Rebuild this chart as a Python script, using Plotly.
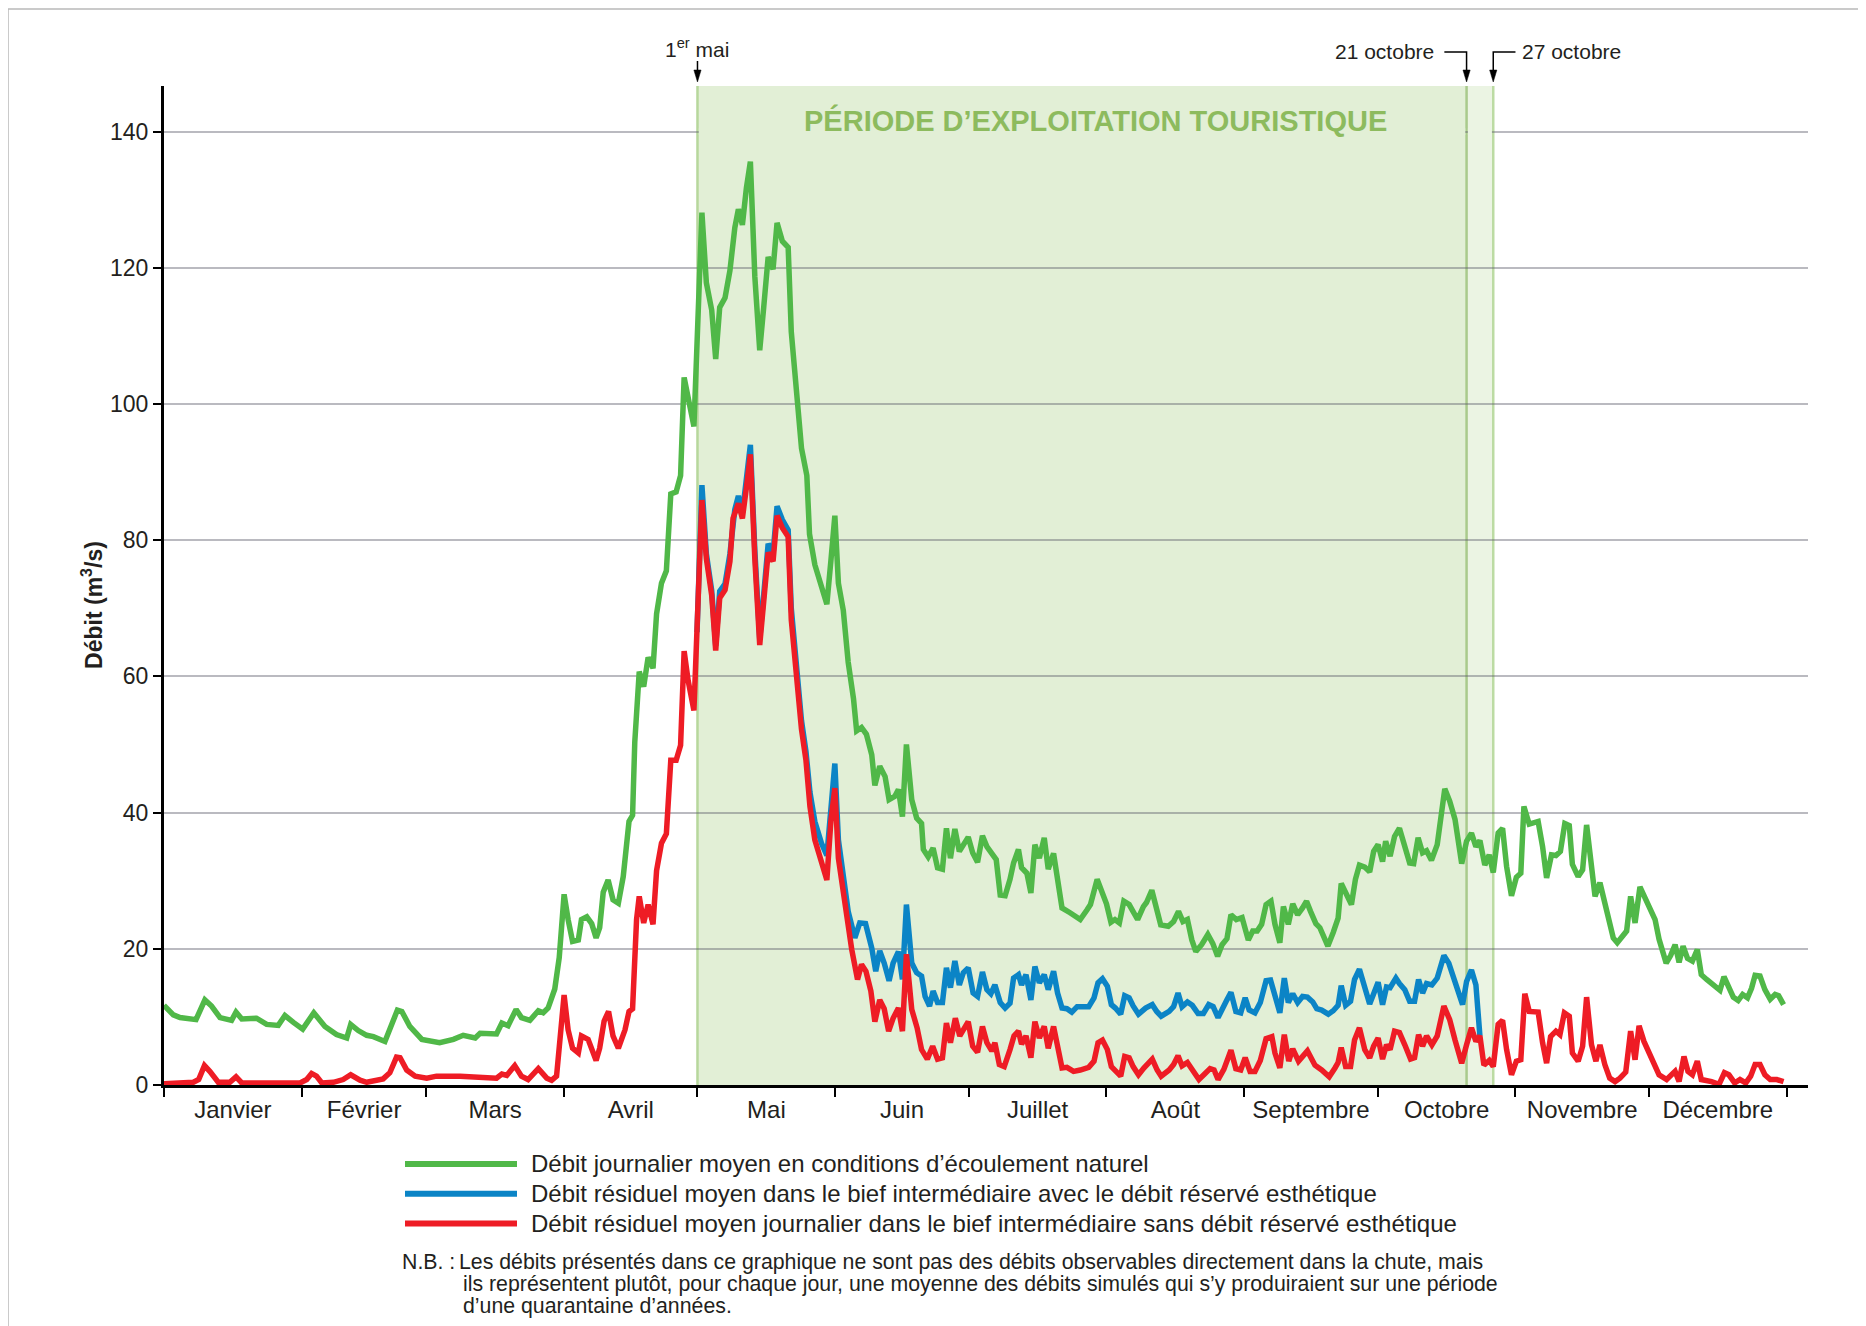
import plotly.graph_objects as go

# ---------------- DATA (day of year, m3/s) ----------------
natural = [(0,11.7),(2.1,10.3),(3.6,9.9),(6.6,9.7),(7.2,9.6),(9.2,12.5),(10.7,11.6),(12.6,9.9),(14.8,9.7),(15.2,9.5),
 (16.2,10.7),(17.5,9.7),(20.8,9.8),(23.1,8.9),(25.7,8.75),(27.2,10.2),(29.1,9.2),(31.2,8.2),(33.7,10.6),(36.2,8.6),
 (38.8,7.4),(41.1,6.9),(42.0,8.9),(43.7,8.0),(45.6,7.3),(47.1,7.1),(49.7,6.4),(50.8,8.1),(52.5,11.0),(53.5,10.8),
 (55.3,8.6),(58.0,6.7),(62.0,6.2),(65.1,6.7),(67.3,7.3),(70.0,6.9),(71.1,7.6),(74.8,7.5),(76.0,9.1),(77.4,8.7),
 (79.2,11.1),(80.4,9.9),(82.3,9.5),(84.2,10.9),(85.3,10.6),(86.4,11.3),(87.9,14.1),(88.9,18.7),(90.0,28.0),(90.9,24.3),
 (91.9,21.1),(93.2,21.3),(93.9,24.3),(95.1,24.7),(96.2,23.7),(97.2,21.6),(98.0,23.1),(98.8,28.3),(99.9,30.1),(101.0,27.2),
 (102.2,26.7),(103.3,30.6),(104.6,38.7),(105.4,39.6),(105.9,50.4),(106.9,60.7),(107.9,58.5),(108.9,62.8),(110.0,61.2),
 (110.8,69.2),(111.9,73.7),(113.0,75.5),(114.0,86.8),(115.2,87.1),(116.2,89.5),(117.0,103.9),(117.9,100.7),(119.2,96.7),
 (121.0,128.1),(122.0,117.8),(123.2,113.8),(124.1,106.6),(125.0,114.2),(126.2,115.6),(127.3,119.6),(128.4,125.9),
 (129.2,128.6),(130.1,126.3),(131.0,131.7),(131.9,135.6),(132.9,118.7),(134.0,107.9),(134.9,114.2),(135.9,121.6),
 (137.0,119.8),(137.9,126.6),(139.1,123.9),(140.4,123.0),(141.1,110.6),(142.3,101.6),(143.4,93.5),(144.6,89.5),
 (145.2,80.9),(146.4,76.4),(147.9,73.3),(149.1,70.6),(150.0,76.9),(150.9,83.6),(151.7,73.7),(152.8,69.7),(153.9,62.1),
 (155.1,56.7),(155.8,52.0),(156.9,52.5),(158.0,51.5),(159.2,48.5),(159.9,44.0),(161.0,46.8),(162.2,45.3),(163.1,41.9),
 (164.4,42.4),(165.2,43.4),(166.1,39.4),(167.0,50.0),(168.2,41.9),(169.3,39.2),(170.4,38.4),(170.8,34.6),(171.9,33.5),
 (173.0,34.8),(174.0,31.9),(175.1,31.7),(176.0,37.7),(176.9,33.3),(177.9,37.6),(178.9,34.3),(180.9,36.4),(181.9,34.1),
 (183.0,32.7),(184.1,36.6),(185.1,35.0),(186.2,33.8),(187.2,33.1),(188.1,27.9),(189.2,27.8),(190.3,30.2),(191.1,32.6),
 (192.2,34.6),(192.9,31.9),(194.1,31.1),(195.0,28.2),(195.9,35.3),(196.9,33.3),(198.0,36.3),(198.9,31.7),(200.1,34.0),
 (201.0,30.2),(202.0,26.0),(203.8,25.3),(206.1,24.3),(207.6,25.7),(208.4,26.5),(209.9,30.2),(211.3,27.7),(212.0,26.6),
 (213.0,23.9),(213.9,24.3),(214.9,23.8),(215.9,27.0),(217.1,26.5),(218.0,25.3),(219.0,24.3),(220.3,26.2),(221.0,26.8),
 (222.2,28.6),(223.1,26.2),(224.2,23.5),(225.9,23.3),(227.1,24.0),(228.2,25.5),(229.2,24.0),(230.2,24.3),(231.2,21.3),
 (232.1,19.6),(233.4,20.6),(234.8,22.1),(235.9,20.8),(237.0,18.9),(238.0,20.6),(239.1,21.5),(240.0,25.0),(241.2,24.3),
 (242.5,24.6),(243.9,21.3),(244.9,22.6),(245.9,22.6),(246.9,23.6),(247.9,26.5),(249.0,27.0),(249.9,23.6),(251.0,20.9),
 (251.8,26.2),(252.9,23.6),(253.9,26.6),(255.0,25.0),(256.1,26.0),(257.0,27.0),(257.9,25.5),(259.1,23.7),(260.0,23.1),
 (260.9,21.5),(261.8,20.4),(263.0,22.4),(264.1,24.5),(264.8,29.6),(266.0,27.8),(267.1,26.5),(268.0,30.2),(268.9,32.3),
 (270.1,32.0),(271.2,31.3),(272.1,34.3),(273.1,35.3),(274.1,32.8),(274.8,35.8),(275.8,33.6),(276.8,36.5),(277.9,37.7),
 (279.1,35.0),(280.2,32.6),(281.1,32.5),(282.1,36.3),(283.1,34.1),(284.0,34.4),(285.1,33.0),(286.4,35.3),(288.1,43.5),
 (289.2,41.7),(290.4,39.0),(291.1,35.5),(291.9,32.5),(293.0,35.8),(294.1,37.0),(295.1,35.0),(296.0,35.9),(297.1,32.3),
 (298.1,33.8),(299.0,31.2),(300.1,37.0),(301.1,37.7),(302.0,32.1),(303.1,27.8),(304.2,30.5),(305.2,31.1),(305.9,40.9),
 (307.1,38.3),(309.1,38.7),(310.1,35.0),(311.0,30.4),(312.1,33.8),(313.1,33.7),(314.1,34.3),(315.1,38.4),(316.1,38.1),
 (316.8,32.4),(318.1,30.6),(319.1,31.6),(320.0,38.2),(321.1,32.4),(321.9,27.7),(323.0,29.7),(324.1,26.5),(325.1,23.5),
 (326.0,21.6),(326.9,20.9),(327.9,21.7),(329.0,22.6),(329.9,27.7),(330.9,23.8),(332.0,29.1),(333.1,27.5),(334.2,25.8),
 (335.4,24.3),(336.3,21.4),(337.2,19.4),(337.9,17.9),(338.9,19.0),(339.9,20.6),(340.8,18.0),(341.7,20.4),(342.7,18.6),
 (343.8,18.2),(344.9,19.9),(345.8,16.2),(347.0,15.5),(348.1,15.0),(350.0,13.9),(350.9,15.9),(351.8,14.7),(353.0,12.9),
 (354.1,12.4),(355.1,13.3),(356.2,12.8),(357.1,14.2),(357.9,16.1),(359.0,16.0),(360.1,14.0),(361.3,12.6),(362.4,13.3),
 (363.2,13.1),(364.3,11.8)]

with_reserve = [(119.9,66.5),(121.0,88.1),(122.0,78.0),(123.2,72.6),(124.1,64.5),(125.0,72.5),(126.2,73.6),(127.3,78.0),
 (128.4,84.5),(129.2,86.5),(130.1,84.0),(131.0,88.5),(131.9,94.0),(132.9,78.5),(134.0,65.5),(134.9,72.0),(135.9,79.5),
 (137.0,78.0),(137.9,85.0),(139.1,83.0),(140.4,81.5),(141.1,70.0),(142.3,61.0),(143.4,53.5),(144.4,49.0),(145.3,43.0),
 (146.4,38.7),(147.9,35.5),(149.1,33.7),(150.0,40.5),(150.9,47.2),(151.7,36.0),(152.8,30.0),(153.9,25.5),(155.4,21.6),
 (156.5,23.8),(157.8,23.7),(159.2,20.1),(160.1,16.7),(161.0,19.7),(162.0,17.9),(163.1,15.3),(164.0,17.9),(165.2,19.6),
 (166.1,15.5),(167.0,26.5),(168.2,17.9),(169.3,16.5),(170.4,16.0),(171.2,13.0),(172.2,11.6),(173.0,13.8),(174.0,12.1),
 (175.1,12.1),(176.0,17.2),(176.9,14.3),(177.9,18.2),(178.9,14.7),(179.8,16.5),(180.9,17.2),(182.0,13.5),(183.0,13.0),
 (184.1,16.6),(185.1,14.0),(186.0,13.4),(186.9,14.7),(188.1,12.1),(189.2,11.3),(190.3,12.0),(191.1,15.7),(192.2,16.2),
 (192.9,14.7),(193.9,16.2),(195.0,12.5),(195.9,17.4),(196.9,15.0),(198.0,16.2),(198.9,14.0),(200.1,16.7),(201.0,13.5),
 (202.0,11.3),(203.1,11.2),(204.2,10.7),(205.4,11.5),(208.0,11.5),(209.2,12.8),(210.1,15.0),(211.1,15.6),(212.2,14.5),
 (213.1,11.8),(214.0,11.3),(215.2,10.4),(216.1,13.1),(217.1,12.8),(218.0,11.6),(219.2,10.4),(220.8,11.3),(222.3,11.8),
 (223.3,10.8),(224.3,10.1),(226.1,10.8),(227.1,11.5),(228.1,13.5),(229.0,11.5),(230.2,12.2),(231.3,11.7),(232.6,10.5),
 (233.8,10.5),(235.0,11.8),(236.0,11.5),(237.1,9.9),(238.2,11.5),(239.1,12.5),(240.0,13.6),(241.1,10.8),(242.2,10.6),
 (243.2,12.8),(244.1,11.0),(245.4,10.6),(246.6,12.1),(247.9,15.3),(248.9,15.4),(249.9,13.0),(251.0,10.6),(252.0,15.7),
 (252.9,12.1),(253.9,13.4),(255.0,12.1),(256.1,13.0),(257.2,12.9),(258.4,12.2),(259.3,11.2),(260.4,11.0),(261.9,10.4),
 (263.0,10.9),(264.1,11.7),(264.8,14.6),(265.8,11.7),(266.9,12.3),(267.8,15.5),(268.9,17.0),(269.9,14.5),(271.2,11.9),
 (272.1,13.4),(273.1,15.1),(274.1,11.8),(275.0,14.4),(275.8,14.3),(277.1,15.7),(277.9,14.9),(279.1,14.0),(280.2,12.3),
 (281.3,12.3),(282.2,15.5),(283.1,13.5),(284.0,14.9),(285.2,14.7),(286.4,15.7),(287.9,19.0),(289.0,17.9),(289.9,16.2),
 (290.8,14.0),(292.1,11.8),(293.0,15.2),(294.1,16.9),(295.1,14.7),(296.0,7.2)]

without_reserve = [(0,0.2),(6.6,0.4),(7.8,0.8),(9.1,2.85),(10.3,2.0),(12.2,0.4),(14.8,0.4),(16.2,1.2),(17.5,0.3),(21.6,0.4),
 (25.3,0.3),(30.6,0.3),(32.1,0.8),(33.2,1.7),(34.3,1.3),(35.5,0.3),(38.1,0.4),(40.3,0.8),(42.0,1.5),(44.1,0.7),(45.6,0.4),
 (49.3,0.9),(50.8,1.8),(52.3,4.1),(53.1,4.0),(54.6,2.2),(56.5,1.3),(59.1,1.0),(61.3,1.3),(66.6,1.3),(71.1,1.2),(74.8,1.0),
 (76.0,1.6),(77.1,1.4),(78.9,2.85),(80.4,1.3),(81.9,0.8),(84.2,2.4),(86.1,1.0),(87.2,0.7),(88.3,1.3),(90.0,13.2),(90.9,8.1),
 (91.9,5.4),(93.2,4.7),(93.9,7.2),(95.4,6.7),(97.2,3.6),(98.0,5.4),(99.0,9.4),(100.0,10.8),(101.0,7.2),(102.2,5.4),
 (103.7,8.1),(104.6,10.8),(105.4,11.2),(106.3,24.3),(106.9,27.7),(107.9,23.8),(108.9,26.5),(110.0,23.6),(110.8,31.5),
 (111.9,35.5),(113.0,36.9),(114.0,47.7),(115.2,47.7),(116.2,49.9),(117.0,63.7),(117.9,59.4),(119.2,55.0),(121.0,85.9),
 (122.0,77.3),(123.2,71.9),(124.1,63.8),(125.0,71.5),(126.2,72.7),(127.3,76.9),(128.0,83.2),(129.2,85.4),(130.1,83.2),
 (131.0,87.7),(131.9,92.6),(132.9,77.3),(134.0,64.6),(134.9,71.0),(135.9,78.2),(137.0,76.9),(137.9,83.6),(139.1,81.8),
 (140.4,80.5),(141.1,68.3),(142.3,59.4),(143.4,52.2),(144.4,47.7),(145.3,40.9),(146.4,36.0),(147.9,32.4),(149.1,30.1),
 (150.0,38.7),(150.9,43.6),(151.7,33.3),(152.8,27.9),(153.9,22.5),(154.7,19.9),(156.0,15.5),(156.9,17.7),(157.9,16.7),
 (159.0,13.8),(159.9,9.3),(161.0,12.5),(162.0,11.2),(163.0,7.9),(164.0,9.8),(165.2,11.3),(166.1,7.9),(167.0,19.2),
 (168.2,11.1),(169.4,8.4),(170.4,5.2),(171.7,3.8),(172.9,5.7),(174.0,3.8),(175.1,4.0),(176.0,9.1),(176.9,6.2),(178.0,9.8),
 (179.0,7.2),(179.9,8.4),(180.9,9.3),(181.9,5.7),(183.0,4.8),(184.1,8.6),(185.1,6.2),(186.2,5.0),(186.9,6.2),(187.9,3.0),
 (189.0,2.7),(190.3,5.2),(191.2,7.2),(192.2,7.9),(192.9,6.0),(193.9,7.2),(195.0,4.0),(195.9,9.3),(196.9,6.9),(198.0,8.6),
 (198.9,5.4),(200.1,8.6),(201.0,5.4),(202.0,2.5),(203.1,2.6),(204.6,2.0),(206.1,2.2),(208.0,2.6),(209.2,3.5),(210.1,6.2),
 (211.1,6.6),(212.2,5.2),(213.1,2.7),(214.0,2.0),(215.2,1.3),(216.1,4.2),(217.1,4.0),(218.0,2.7),(219.2,1.5),(220.4,2.5),
 (222.3,3.8),(223.4,2.2),(224.3,1.3),(226.1,2.2),(227.1,3.0),(228.1,4.3),(229.0,2.8),(230.2,3.3),(231.3,2.2),(232.8,0.8),
 (233.9,1.5),(235.3,2.4),(236.2,2.2),(237.1,0.8),(238.4,2.3),(240.0,5.1),(241.1,2.4),(242.2,2.2),(243.2,4.0),(244.3,2.0),
 (245.4,2.0),(246.6,3.6),(247.9,6.8),(249.2,7.1),(249.9,4.7),(251.0,2.5),(252.0,7.4),(253.0,3.5),(253.9,5.3),(255.2,3.5),
 (257.2,5.0),(258.9,2.9),(260.4,2.2),(262.1,1.2),(263.4,2.5),(264.1,3.3),(264.8,5.5),(265.8,2.7),(266.9,2.7),(267.8,6.6),
 (268.9,8.4),(270.1,5.2),(271.2,4.0),(272.1,5.7),(273.1,6.9),(274.1,3.8),(275.0,5.9),(275.8,5.2),(276.8,7.9),(277.9,7.7),
 (279.1,5.9),(280.4,3.8),(281.3,4.0),(282.2,7.4),(283.1,5.7),(284.0,7.2),(285.2,5.9),(286.4,7.2),(287.9,11.6),(289.2,9.6),
 (290.4,6.6),(291.9,3.2),(293.0,5.9),(294.1,8.4),(295.1,6.4),(296.0,7.2),(296.9,2.9),(298.1,3.6),(299.0,2.7),(300.1,8.9),
 (301.1,9.5),(302.0,5.2),(303.1,1.5),(304.2,3.5),(305.2,3.7),(306.1,13.4),(307.1,10.8),(309.1,10.7),(310.1,6.2),(311.0,3.2),
 (311.9,7.1),(313.1,7.9),(314.0,7.4),(315.0,10.6),(316.1,10.1),(316.8,4.7),(318.1,3.5),(319.1,5.7),(320.0,12.9),(321.1,5.9),
 (322.1,3.5),(323.0,5.9),(324.1,3.0),(325.2,1.0),(326.4,0.5),(327.5,1.0),(328.8,1.9),(329.9,7.9),(330.9,3.7),(331.8,8.7),
 (332.9,6.4),(334.1,4.7),(335.4,2.5),(336.3,1.5),(338.0,0.8),(339.9,2.0),(340.8,0.5),(341.9,4.2),(342.8,2.0),(343.8,1.5),
 (344.9,3.5),(345.8,0.8),(348.1,0.5),(349.8,0.1),(351.0,1.8),(352.0,1.5),(353.3,0.3),(354.5,0.8),(355.8,0.3),(356.9,1.3),
 (357.9,3.0),(359.0,3.0),(360.1,1.5),(361.3,0.8),(362.8,0.8),(364.3,0.5)]

series_names = [
    "Débit journalier moyen en conditions d’écoulement naturel",
    "Débit résiduel moyen dans le bief intermédiaire avec le débit réservé esthétique",
    "Débit résiduel moyen journalier dans le bief intermédiaire sans débit réservé esthétique",
]
month_names = ["Janvier", "Février", "Mars", "Avril", "Mai", "Juin", "Juillet", "Août",
               "Septembre", "Octobre", "Novembre", "Décembre"]
month_starts = [0, 31, 59, 90, 120, 151, 181, 212, 243, 273, 304, 334, 365]
y_ticks = [0, 20, 40, 60, 80, 100, 120, 140]
season_start, season_end_a, season_end_b = 120, 293, 299   # 1er mai, 21 et 27 octobre
note_lines = [
    "Les débits présentés dans ce graphique ne sont pas des débits observables directement dans la chute, mais",
    "ils représentent plutôt, pour chaque jour, une moyenne des débits simulés qui s’y produiraient sur une période",
    "d’une quarantaine d’années.",
]

# ---------------- LAYOUT CONSTANTS ----------------
W, H = 1866, 1326
OFF = 8                       # page body margin of the html page
REF_L, REF_T = 164, 86        # plot-area corner in screen pixels
PW, PH = 1644, 999
ML, MT = REF_L - OFF, REF_T - OFF
MR, MB = W - ML - PW, H - MT - PH
X_MAX = 369.8
Y_MAX = 146.7
FONT = "Liberation Sans, Arial, Helvetica, sans-serif"
GREEN, BLUE, RED = "#50b848", "#0b84c6", "#ee1c25"
SHADE, SHADE_LIGHT = "#e2efd6", "#ebf4e3"
TXT = "#231f20"
LW = 5.5


def px(xs):
    """screen x pixel -> paper x"""
    return (xs - REF_L) / PW


def py(ys):
    """screen y pixel -> paper y"""
    return (REF_T + PH - ys) / PH


DAY_PX = PW / X_MAX

fig = go.Figure()
colors = [GREEN, BLUE, RED]
for data, name, color in zip([natural, with_reserve, without_reserve], series_names, colors):
    d, v = zip(*data)
    fig.add_trace(go.Scatter(x=list(d), y=list(v), mode="lines", name=name, showlegend=False,
                             line=dict(color=color, width=LW), hoverinfo="skip"))

month_mid = [(month_starts[i] + month_starts[i + 1]) / 2 for i in range(12)]
top_grid = y_ticks[-1]

shapes = [
    # outer frame
    dict(type="rect", xref="paper", yref="paper", x0=px(8), x1=px(W + 40), y0=py(H + 40), y1=py(9),
         line=dict(color="#b9b9b9", width=1.5), fillcolor="rgba(0,0,0,0)", layer="below"),
    # tourist season shading
    dict(type="rect", xref="x", yref="paper", x0=season_start, x1=season_end_a, y0=0, y1=1,
         fillcolor=SHADE, line=dict(width=0), layer="below"),
    dict(type="rect", xref="x", yref="paper", x0=season_end_a, x1=season_end_b, y0=0, y1=1,
         fillcolor=SHADE_LIGHT, line=dict(width=0), layer="below"),
    # the top grid line is hidden behind the season band
    dict(type="rect", xref="x", yref="y", x0=season_start + 0.3, x1=season_end_a - 0.3,
         y0=top_grid - 0.5, y1=top_grid + 0.5, fillcolor=SHADE, line=dict(width=0), layer="above"),
    dict(type="rect", xref="x", yref="y", x0=season_end_a + 0.3, x1=season_end_b - 0.3,
         y0=top_grid - 0.5, y1=top_grid + 0.5, fillcolor=SHADE_LIGHT, line=dict(width=0), layer="above"),
    dict(type="line", xref="x", yref="paper", x0=season_start, x1=season_start, y0=0, y1=1,
         line=dict(color="#b7d79c", width=2.5), layer="below"),
    dict(type="line", xref="x", yref="paper", x0=season_end_a, x1=season_end_a, y0=0, y1=1,
         line=dict(color="#a9ca8c", width=2.5), layer="below"),
    dict(type="line", xref="x", yref="paper", x0=season_end_b, x1=season_end_b, y0=0, y1=1,
         line=dict(color="#bcdba3", width=2.5), layer="below"),
    # elbow connectors for October labels
    dict(type="path", xref="x", yref="paper",
         path=f"M{season_end_a - 5.0},{py(52)} L{season_end_a},{py(52)} L{season_end_a},{py(72)}",
         line=dict(color="black", width=1.5)),
    dict(type="path", xref="x", yref="paper",
         path=f"M{season_end_b + 5.0},{py(52)} L{season_end_b},{py(52)} L{season_end_b},{py(72)}",
         line=dict(color="black", width=1.5)),
    dict(type="line", xref="x", yref="paper", x0=season_start, x1=season_start, y0=py(61), y1=py(72),
         line=dict(color="black", width=1.5)),
]
# arrowheads
hw = 3.6 / DAY_PX
for xa in [season_start, season_end_a, season_end_b]:
    shapes.append(dict(type="path", xref="x", yref="paper",
                       path=f"M{xa - hw},{py(70)} L{xa + hw},{py(70)} L{xa},{py(82)} Z",
                       fillcolor="black", line=dict(color="black", width=0.5)))
# manual legend swatches
for i, color in enumerate(colors):
    yl = py(1164 + 29.8 * i)
    shapes.append(dict(type="line", xref="paper", yref="paper", x0=px(405), x1=px(517), y0=yl, y1=yl,
                       line=dict(color=color, width=6)))

annotations = [
    dict(text="<b>PÉRIODE D’EXPLOITATION TOURISTIQUE</b>", xref="x", yref="paper",
         x=(season_start + season_end_b) / 2, y=py(121), xanchor="center", yanchor="middle",
         showarrow=False, font=dict(family=FONT, size=29, color="#8dbb5e")),
    dict(text="1<sup>er</sup> mai", xref="x", yref="paper", x=season_start, y=py(48),
         xanchor="center", yanchor="middle", showarrow=False, font=dict(family=FONT, size=21, color=TXT)),
    dict(text="21 octobre", xref="x", yref="paper", x=season_end_a - 6.9, y=py(51),
         xanchor="right", yanchor="middle", showarrow=False, font=dict(family=FONT, size=21, color=TXT)),
    dict(text="27 octobre", xref="x", yref="paper", x=season_end_b + 6.0, y=py(51),
         xanchor="left", yanchor="middle", showarrow=False, font=dict(family=FONT, size=21, color=TXT)),
    dict(text="<b>Débit (m<sup>3</sup>/s)</b>", xref="paper", yref="y", x=px(92), y=70.5,
         xanchor="center", yanchor="middle", textangle=-90, showarrow=False,
         font=dict(family=FONT, size=23, color=TXT)),
    dict(text="N.B. :", xref="paper", yref="paper", x=px(400), y=py(1262), xanchor="left",
         yanchor="middle", showarrow=False, font=dict(family=FONT, size=21.3, color=TXT)),
]
for i, name in enumerate(series_names):
    annotations.append(dict(text=name, xref="paper", yref="paper", x=px(529), y=py(1164 + 29.8 * i),
                            xanchor="left", yanchor="middle", showarrow=False,
                            font=dict(family=FONT, size=24, color=TXT)))
for i, line in enumerate(note_lines):
    annotations.append(dict(text=line, xref="paper", yref="paper", x=px(457 if i == 0 else 461),
                            y=py(1262 + 21.8 * i), xanchor="left", yanchor="middle", showarrow=False,
                            font=dict(family=FONT, size=21.3, color=TXT)))

fig.update_layout(
    width=W, height=H,
    margin=dict(l=ML, r=MR, t=MT, b=MB, pad=0),
    paper_bgcolor="white", plot_bgcolor="white",
    font=dict(family=FONT, size=23, color=TXT),
    shapes=shapes, annotations=annotations,
    showlegend=False,
    xaxis=dict(range=[0, X_MAX], showgrid=False, zeroline=False, showline=True,
               linecolor="black", linewidth=3, tickmode="array", tickvals=month_mid,
               ticktext=month_names, ticks="", ticklabelstandoff=1,
               tickfont=dict(family=FONT, size=24, color=TXT),
               minor=dict(tickmode="array", tickvals=month_starts, ticks="outside", ticklen=9,
                          tickwidth=2, tickcolor="black", showgrid=False)),
    yaxis=dict(range=[0, Y_MAX], tickmode="array", tickvals=y_ticks, ticks="outside", ticklen=8,
               tickwidth=2, tickcolor="black", showline=True, linecolor="black", linewidth=3,
               showgrid=True, gridcolor="rgba(90,90,105,0.42)", gridwidth=2, zeroline=False,
               tickfont=dict(family=FONT, size=23, color=TXT)),
)

fig.write_html("out.html")
